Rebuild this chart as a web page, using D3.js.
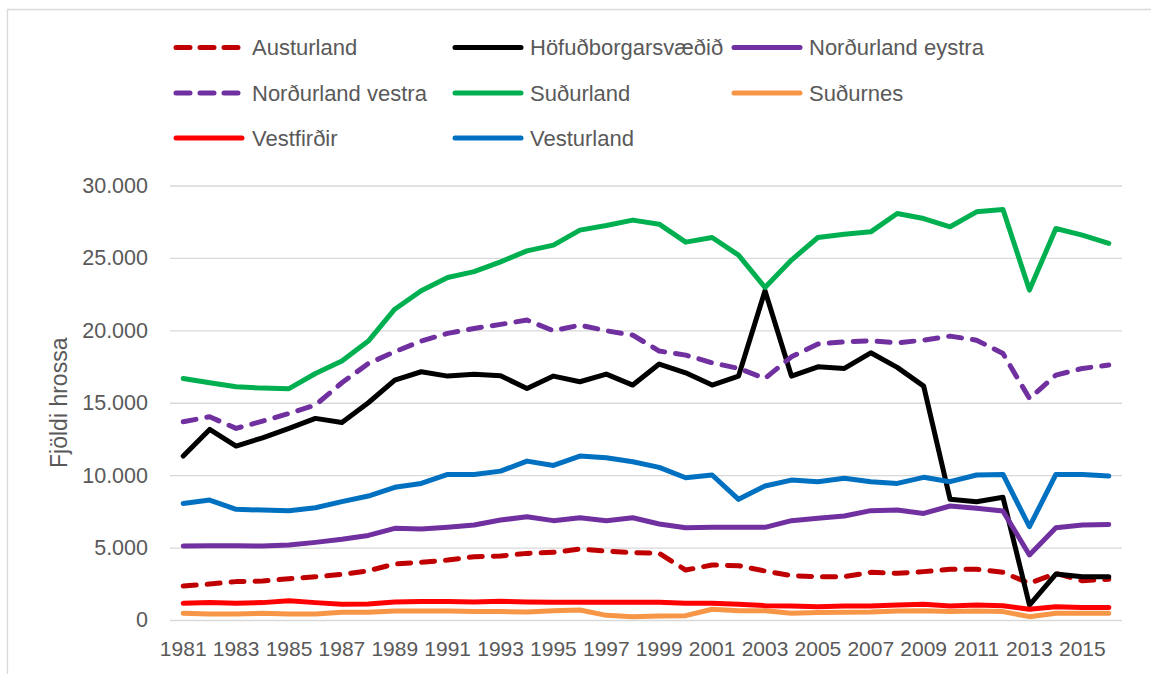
<!DOCTYPE html>
<html>
<head>
<meta charset="utf-8">
<script src="https://cdn.jsdelivr.net/npm/d3@7"></script>
<style>
  html, body { margin: 0; padding: 0; background: #ffffff; }
  svg { display: block; }
  text { font-family: "Liberation Sans", Arial, sans-serif; fill: #595959; }
</style>
</head>
<body>
<svg id="chart" width="1151" height="674"></svg>
<script>
const years = d3.range(1981, 2017);
const tickYears = years.filter((y, i) => i % 2 === 0);
const yTicks = [0, 5000, 10000, 15000, 20000, 25000, 30000];

const seriesNames = ["Austurland", "Höfuðborgarsvæðið", "Norðurland eystra", "Norðurland vestra", "Suðurland", "Suðurnes", "Vestfirðir", "Vesturland"];
const seriesColors = ["#C00000", "#000000", "#7030A0", "#7030A0", "#00B050", "#F79646", "#FF0000", "#0070C0"];
const seriesDashed = [true, false, false, true, false, false, false, false];

const austurland = [2350,2480,2650,2690,2850,2990,3150,3400,3870,3980,4140,4370,4420,4600,4670,4900,4760,4650,4600,3450,3800,3750,3380,3060,2990,2990,3290,3220,3340,3500,3500,3290,2530,3220,2710,2810];
const hofudborgarsvaedid = [11320,13160,12010,12580,13230,13920,13640,15000,16560,17140,16840,16960,16860,15990,16840,16450,16980,16220,17670,17070,16220,16840,22730,16840,17480,17370,18450,17440,16150,8330,8170,8470,1035,3170,2990,2990];
const nordurlandEystra = [5110,5130,5130,5110,5180,5360,5570,5840,6330,6280,6400,6560,6900,7130,6860,7060,6860,7060,6630,6370,6400,6400,6400,6860,7020,7180,7550,7590,7360,7870,7710,7520,4490,6370,6560,6600];
const nordurlandVestra = [13690,14030,13230,13730,14260,14840,16380,17710,18520,19260,19790,20130,20410,20710,19970,20360,19970,19670,18570,18290,17760,17370,16680,18170,19050,19210,19280,19140,19320,19600,19320,18400,15300,16910,17370,17600];
const sudurland = [16680,16380,16100,16010,15970,17020,17880,19260,21460,22730,23650,24050,24730,25490,25880,26920,27240,27610,27330,26090,26410,25190,22960,24850,26410,26640,26800,28070,27720,27150,28180,28340,22780,27030,26570,26000];
const sudurnes = [460,410,410,460,410,410,530,530,620,620,620,580,580,550,640,690,320,230,280,300,740,640,640,460,510,530,550,620,640,580,620,580,230,460,460,460];
const vestfirdir = [1150,1200,1150,1200,1330,1200,1080,1100,1240,1270,1270,1240,1290,1240,1220,1220,1220,1220,1220,1150,1150,1080,990,970,920,970,970,1040,1080,970,1040,990,740,920,870,870];
const vesturland = [8050,8280,7640,7590,7550,7750,8170,8560,9160,9430,10050,10050,10280,10970,10670,11320,11200,10930,10540,9820,10010,8330,9250,9660,9550,9780,9550,9430,9850,9550,10010,10050,6440,10050,10050,9940];

const seriesValues = [austurland, hofudborgarsvaedid, nordurlandEystra, nordurlandVestra, sudurland, sudurnes, vestfirdir, vesturland];

const series = seriesNames.map((name, i) => ({
  name, color: seriesColors[i], dashed: seriesDashed[i],
  values: years.map((y, j) => ({ year: y, value: seriesValues[i][j] }))
}));

const svg = d3.select("#chart");
const plot = { left: 170, right: 1122, top: 185.5, bottom: 620 };

const locale = d3.formatLocale({ decimal: ",", thousands: ".", grouping: [3], currency: ["", " kr."] });
const fmt = locale.format(",d");

const x = d3.scaleBand().domain(years).range([plot.left, plot.right]).padding(0);
const y = d3.scaleLinear().domain([0, 30000]).range([plot.bottom, plot.top]);

// chart area border
svg.append("path")
  .attr("d", `M7.5,674 L7.5,9.5 L1151,9.5`)
  .attr("fill", "none").attr("stroke", "#d9d9d9").attr("stroke-width", 1.3);

// gridlines + y labels
const yAxis = d3.axisLeft(y).tickValues(yTicks).tickFormat(fmt)
  .tickSize(-(plot.right - plot.left)).tickPadding(22);
const gy = svg.append("g").attr("transform", `translate(${plot.left},0)`).call(yAxis);
gy.select(".domain").remove();
gy.selectAll(".tick line").attr("stroke", "#d9d9d9").attr("stroke-width", 1.3);
gy.selectAll(".tick text").attr("font-size", "21.5px").attr("fill", "#595959")
  .style("font-family", "'Liberation Sans', Arial, sans-serif");

// x labels
const xAxis = d3.axisBottom(x).tickValues(tickYears).tickSize(0).tickPadding(21);
const gx = svg.append("g").attr("transform", `translate(0,${plot.bottom})`).call(xAxis);
gx.select(".domain").remove();
gx.selectAll(".tick text").attr("font-size", "21px").attr("fill", "#595959")
  .style("font-family", "'Liberation Sans', Arial, sans-serif");

// y title
svg.append("text")
  .attr("transform", `translate(67,${(plot.top + plot.bottom) / 2}) rotate(-90)`)
  .attr("text-anchor", "middle")
  .attr("font-size", "23px")
  .text("Fjöldi hrossa");

// lines
const line = d3.line()
  .x(d => x(d.year) + x.bandwidth() / 2)
  .y(d => y(d.value));

svg.append("g").selectAll("path")
  .data(series).join("path")
  .attr("d", d => line(d.values))
  .attr("fill", "none")
  .attr("stroke", d => d.color)
  .attr("stroke-width", 5)
  .attr("stroke-linejoin", "round")
  .attr("stroke-linecap", "round")
  .attr("stroke-dasharray", d => d.dashed ? "13,11" : null);

// legend
const legCols = [174, 453, 732];
const legRows = [47.5, 93, 138];
const leg = svg.append("g").selectAll("g")
  .data(series).join("g")
  .attr("transform", (d, i) => `translate(${legCols[i % 3]},${legRows[Math.floor(i / 3)]})`);
leg.append("line")
  .attr("x1", 2).attr("x2", d => d.dashed ? 66 : 68)
  .attr("y1", 0).attr("y2", 0)
  .attr("stroke", d => d.color)
  .attr("stroke-width", 5)
  .attr("stroke-linecap", "round")
  .attr("stroke-dasharray", d => d.dashed ? "14,10" : null);
leg.append("text")
  .attr("x", (d, i) => (i % 3 === 0) ? 78 : 77)
  .attr("y", 0)
  .attr("dy", "0.35em")
  .attr("font-size", "22px")
  .text(d => d.name);
</script>
</body>
</html>
